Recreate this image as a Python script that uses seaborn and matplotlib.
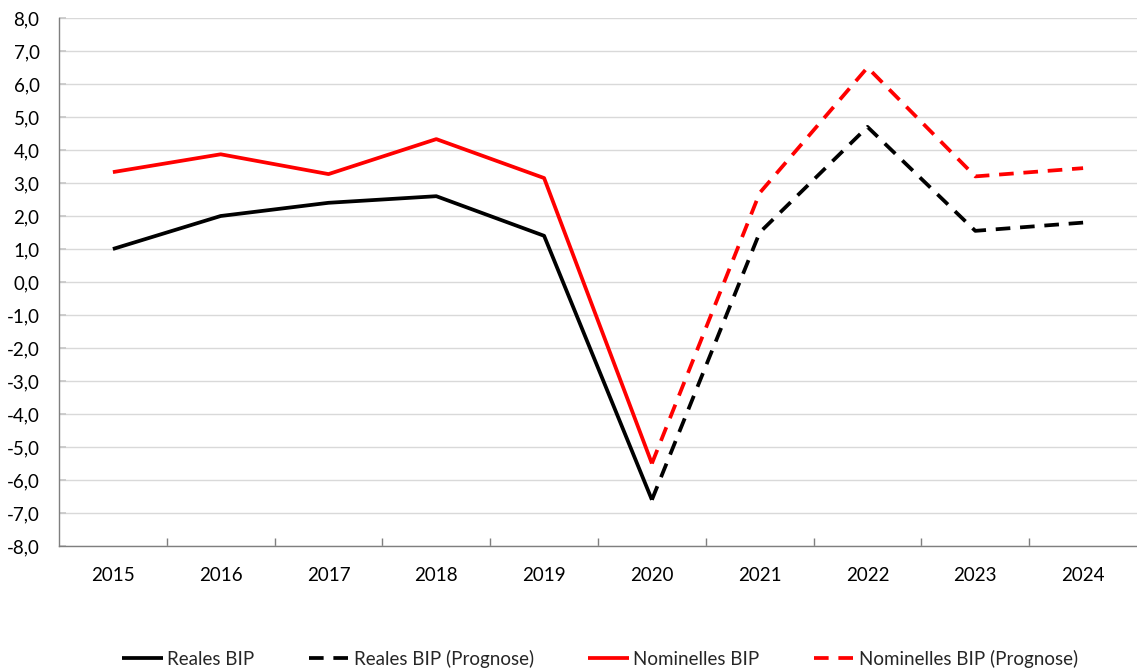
import matplotlib
matplotlib.use("Agg")
import matplotlib.pyplot as plt
import matplotlib.ticker as mticker
import seaborn as sns
import pandas as pd
import numpy as np

years = ["2015", "2016", "2017", "2018", "2019", "2020", "2021", "2022", "2023", "2024"]
reales = [1.0, 2.0, 2.4, 2.6, 1.4, -6.6, None, None, None, None]
reales_prog = [None, None, None, None, None, -6.6, 1.5, 4.7, 1.55, 1.8]
nominal = [3.33, 3.87, 3.27, 4.33, 3.15, -5.5, None, None, None, None]
nominal_prog = [None, None, None, None, None, -5.5, 2.7, 6.5, 3.2, 3.45]

labels = ["Reales BIP", "Reales BIP (Prognose)", "Nominelles BIP", "Nominelles BIP (Prognose)"]
colors = ["#000000", "#000000", "#ff0000", "#ff0000"]
dashed = [False, True, False, True]
series = [reales, reales_prog, nominal, nominal_prog]

sns.set_theme(style="white")
plt.rcParams['font.family'] = ['Lato', 'DejaVu Sans']

fig = plt.figure(figsize=(11.37, 6.69), dpi=100)
ax = fig.add_axes([59/1137, 1-546/669, 1-59/1137, (546-18)/669])

x = np.arange(len(years))
for vals, lab, col, d in zip(series, labels, colors, dashed):
    df = pd.DataFrame({"x": x, "y": pd.array(vals, dtype="Float64")}).dropna()
    df["y"] = df["y"].astype(float)
    sns.lineplot(data=df, x="x", y="y", ax=ax, color=col, linewidth=2.7,
                 label=lab, legend=False)
    line = ax.lines[-1]
    if d:
        line.set_dashes([3.9, 2.6])
    line.set_solid_capstyle("butt")

ax.set_xlim(-0.5, len(years) - 0.5)
ax.set_ylim(-8, 8)
ax.set_xlabel("")
ax.set_ylabel("")
ax.set_xticks(x)
ax.set_xticklabels(years)
ax.set_xticks(np.arange(0.5, len(years) - 1, 1.0), minor=True)
ax.set_yticks(np.arange(-8, 9, 1))
ax.yaxis.set_major_formatter(mticker.FuncFormatter(lambda v, p: f"{v:.1f}".replace(".", ",")))

ax.grid(axis="y", color="#d9d9d9", linewidth=1.0)
ax.set_axisbelow(True)
for s in ["top", "right"]:
    ax.spines[s].set_visible(False)
for s in ["left", "bottom"]:
    ax.spines[s].set_color("#7f7f7f")
    ax.spines[s].set_linewidth(1.0)

ax.tick_params(axis="x", which="major", length=0, pad=15, labelsize=13.5, labelcolor="#000000")
ax.tick_params(axis="x", which="minor", direction="in", length=6, color="#7f7f7f", bottom=True)
ax.tick_params(axis="y", which="major", direction="in", length=5, color="#c8c8c8", pad=14,
               labelsize=13.5, labelcolor="#000000", left=True)

handles = ax.lines[:4]
fig.legend(handles, labels, loc="center", bbox_to_anchor=(600/1137, 1-659/669), ncol=4,
           frameon=False, fontsize=13.5, handlelength=2.2, handletextpad=0.2,
           columnspacing=2.9)

fig.savefig("out.png", dpi=100)
